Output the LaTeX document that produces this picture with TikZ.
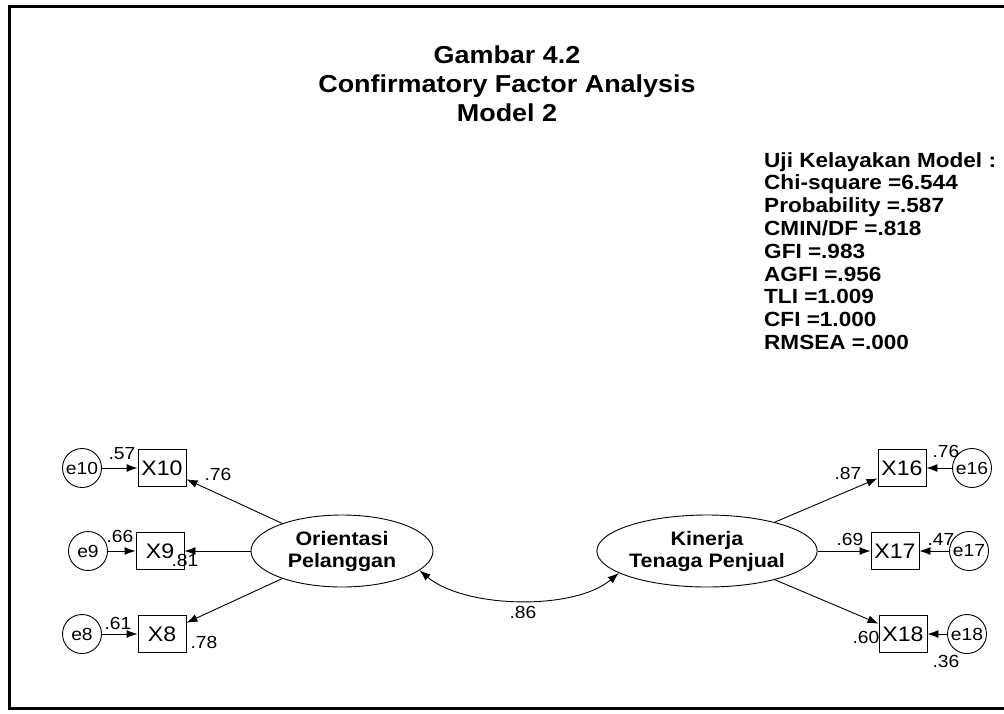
\documentclass[tikz,border=0pt]{standalone}
\usepackage{fontspec}
\setmainfont{Liberation Sans}[FakeStretch=1.1]
\usetikzlibrary{shapes,arrows.meta,positioning,calc}

\begin{document}
\begin{tikzpicture}[x=1pt,y=-1pt,>={Latex[length=11pt,width=8pt]},
    obs/.style={rectangle,draw,line width=0.9pt,minimum width=48pt,minimum height=37pt,inner sep=0pt,font=\fontsize{21}{21}\selectfont},
    err/.style={circle,draw,line width=0.9pt,minimum size=39pt,inner sep=0pt,font=\fontsize{17.5}{17.5}\selectfont},
    lat/.style={ellipse,draw,line width=0.9pt,minimum width=182pt,minimum height=72pt,inner sep=0pt,align=center,font=\fontsize{19.5}{22}\selectfont\bfseries},
    coef/.style={inner sep=0pt,font=\fontsize{17.5}{17.5}\selectfont}]
    \useasboundingbox (0,0) rectangle (1004,713);

    % Frame
    \draw[line width=3pt] (1006,6) -- (9,6) -- (9,708) -- (1006,708);

    % Title
    \node[align=center,anchor=north,inner sep=0pt,font=\fontsize{24.5}{29}\selectfont\bfseries] (title) at (507,46) {Gambar 4.2\\Confirmatory Factor Analysis\\Model 2};

    % Goodness of fit
    \node[align=left,anchor=north west,inner sep=0pt,font=\fontsize{20.5}{22.8}\selectfont\bfseries] (fit) at (764,152) {Uji Kelayakan Model :\\Chi-square =6.544\\Probability =.587\\CMIN/DF =.818\\GFI =.983\\AGFI =.956\\TLI =1.009\\CFI =1.000\\RMSEA =.000};

    % Latent variables
    \node[lat] (ori) at (342,551) {Orientasi\\Pelanggan};
    \node[lat] (kin) at (707,551) {Kinerja\\Tenaga Penjual};
    \draw[<->,line width=0.9pt] (ori.-14) .. controls +(45,38) and +(-45,38) .. (kin.194);
    \node[coef] (c86) at (523,612) {.86};

    % Orientasi Pelanggan indicators
    \node[obs] (x10) at (162,468) {X10};
    \node[obs] (x9) at (160,551) {X9};
    \node[obs] (x8) at (162,634) {X8};
    \node[err] (e10) at (82,468) {e10};
    \node[err] (e9) at (88,551) {e9};
    \node[err] (e8) at (82,634) {e8};
    \draw[->,line width=0.9pt] (ori) -- (x10);
    \draw[->,line width=0.9pt] (ori) -- (x9);
    \draw[->,line width=0.9pt] (ori) -- (x8);
    \draw[->,line width=0.9pt] (e10) -- (x10);
    \draw[->,line width=0.9pt] (e9) -- (x9);
    \draw[->,line width=0.9pt] (e8) -- (x8);
    \node[coef] (c57) at (122,454) {.57};
    \node[coef] (c76a) at (218,474) {.76};
    \node[coef] (c66) at (120,536) {.66};
    \node[coef] (c81) at (185,560) {.81};
    \node[coef] (c61) at (118,623) {.61};
    \node[coef] (c78) at (204,642) {.78};

    % Kinerja Tenaga Penjual indicators
    \node[obs] (x16) at (902,468) {X16};
    \node[obs] (x17) at (895,551) {X17};
    \node[obs] (x18) at (903,634) {X18};
    \node[err] (e16) at (972,468) {e16};
    \node[err] (e17) at (969,551) {e17};
    \node[err] (e18) at (967,634) {e18};
    \draw[->,line width=0.9pt] (kin) -- (x16);
    \draw[->,line width=0.9pt] (kin) -- (x17);
    \draw[->,line width=0.9pt] (kin) -- (x18);
    \draw[->,line width=0.9pt] (e16) -- (x16);
    \draw[->,line width=0.9pt] (e17) -- (x17);
    \draw[->,line width=0.9pt] (e18) -- (x18);
    \node[coef] (c87) at (848,473) {.87};
    \node[coef] (c76b) at (946,451) {.76};
    \node[coef] (c69) at (850,539) {.69};
    \node[coef] (c47) at (941,539) {.47};
    \node[coef] (c60) at (866,637) {.60};
    \node[coef] (c36) at (946,661) {.36};
\end{tikzpicture}
\end{document}
